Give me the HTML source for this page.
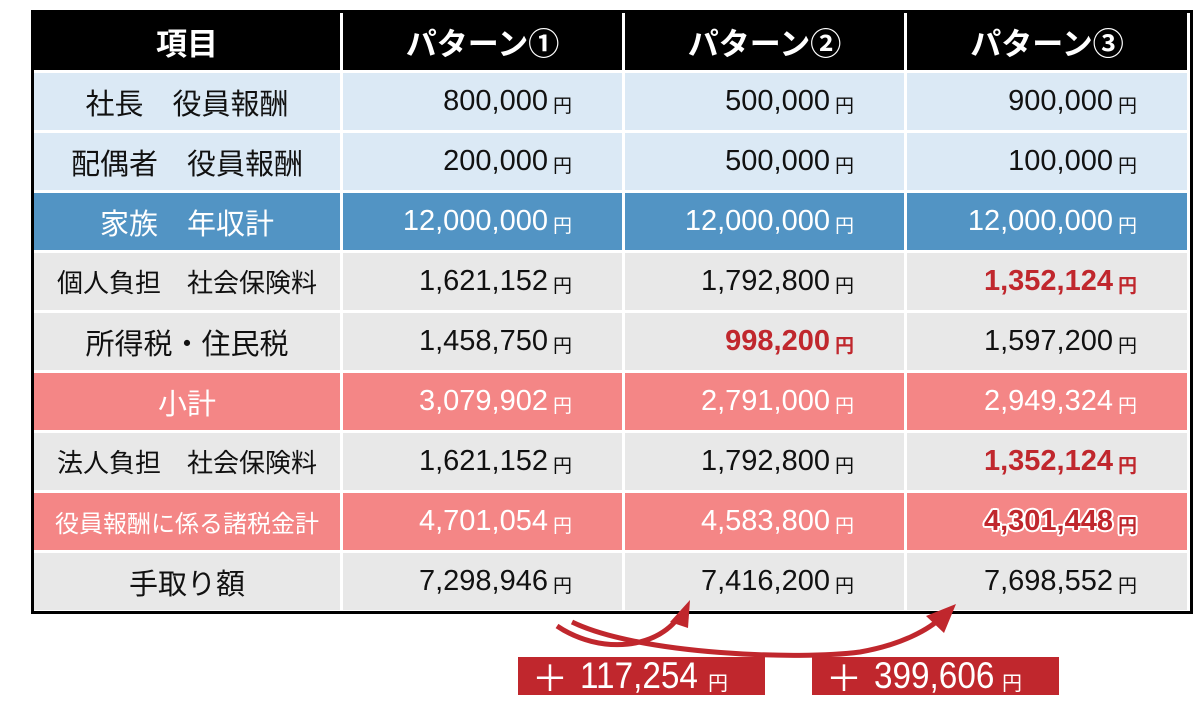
<!DOCTYPE html>
<html><head><meta charset="utf-8"><style>
body{margin:0;background:#fff;width:1200px;height:711px;overflow:hidden;position:relative;font-family:"Liberation Sans","Noto Sans CJK JP",sans-serif}
.tbl{position:absolute;left:31px;top:10px;width:1156px;height:598px;background:#fff;border:3px solid #000}
.c{position:absolute;display:flex;align-items:center;box-sizing:border-box}
.l{justify-content:center;font-size:28px;color:#111}
.n{justify-content:flex-end;padding-right:50px;font-size:29px;color:#111}
.n span.v{display:inline-block;margin-right:5px}
.n span.y{font-size:19px;margin-top:6px}
.w{color:#fff}
.r{color:#c0272d;font-weight:bold}
.o{color:#c0272d;font-weight:bold;text-shadow:-2px 0 #fff,2px 0 #fff,0 -2px #fff,0 2px #fff,-1.5px -1.5px #fff,1.5px 1.5px #fff,-1.5px 1.5px #fff,1.5px -1.5px #fff}
.box{position:absolute;background:#c0272d;color:#fff;height:38px;top:657px;display:flex;align-items:center;font-size:37px;width:247px}
.box .v{display:inline-block;width:128px;transform:scaleX(0.9);transform-origin:left center;margin-left:12px;white-space:nowrap}
</style></head><body>
<div class="tbl"></div>
<div id="g"></div>
<svg style="position:absolute;left:0;top:0" width="1200" height="711">
<path d="M557,626 C600,655 660,650 682,612" stroke="#c0272d" stroke-width="5" fill="none"/>
<polygon points="690,600 670,622 688,628" fill="#c0272d"/>
<path d="M572,622 C640,655 800,660 860,652 C900,645 930,630 945,614" stroke="#c0272d" stroke-width="5" fill="none"/>
<polygon points="956,604 926,616 944,633" fill="#c0272d"/>
</svg>
<div class="box" style="left:518px"><span style="margin-left:14px;font-size:36px">＋</span><span class="v">117,254</span><span style="font-size:20px;margin-top:10px">円</span></div>
<div class="box" style="left:812px"><span style="margin-left:14px;font-size:36px">＋</span><span class="v">399,606</span><span style="font-size:20px;margin-top:10px">円</span></div>
<script>
const cols=[[34,306],[343,279],[625,279],[907,280]];
const rows=[
 ["社長　役員報酬","800,000","500,000","900,000","#dbe9f5","","","","",29],
 ["配偶者　役員報酬","200,000","500,000","100,000","#dbe9f5","","","","",29],
 ["家族　年収計","12,000,000","12,000,000","12,000,000","#5294c4","w","w","w","w",29],
 ["個人負担　社会保険料","1,621,152","1,792,800","1,352,124","#e8e8e8","","","","r",26],
 ["所得税・住民税","1,458,750","998,200","1,597,200","#e8e8e8","","","r","",29],
 ["小計","3,079,902","2,791,000","2,949,324","#f48686","w","w","w","w",29],
 ["法人負担　社会保険料","1,621,152","1,792,800","1,352,124","#e8e8e8","","","","r",26],
 ["役員報酬に係る諸税金計","4,701,054","4,583,800","4,301,448","#f48686","w","w","w","o",24],
 ["手取り額","7,298,946","7,416,200","7,698,552","#e8e8e8","","","","",29]];
let h="";
const hd=["項目","パターン①","パターン②","パターン③"];
cols.forEach((c,i)=>{h+=`<div class="c l w" style="left:${c[0]}px;top:13px;width:${c[1]}px;height:57px;font-size:31px;font-weight:bold;background:#000">${hd[i]}</div>`});
rows.forEach((r,ri)=>{const t=73+60*ri;
 cols.forEach((c,i)=>{const cls=r[5+i];
  if(i==0)h+=`<div class="c l ${cls}" style="left:${c[0]}px;top:${t}px;width:${c[1]}px;height:57px;background:${r[4]};font-size:${r[9]}px">${r[0]}</div>`;
  else h+=`<div class="c n ${cls}" style="left:${c[0]}px;top:${t}px;width:${c[1]}px;height:57px;background:${r[4]}"><span class="v">${r[i]}</span><span class="y">円</span></div>`;
 });});
document.getElementById("g").innerHTML=h;
</script>
</body></html>
